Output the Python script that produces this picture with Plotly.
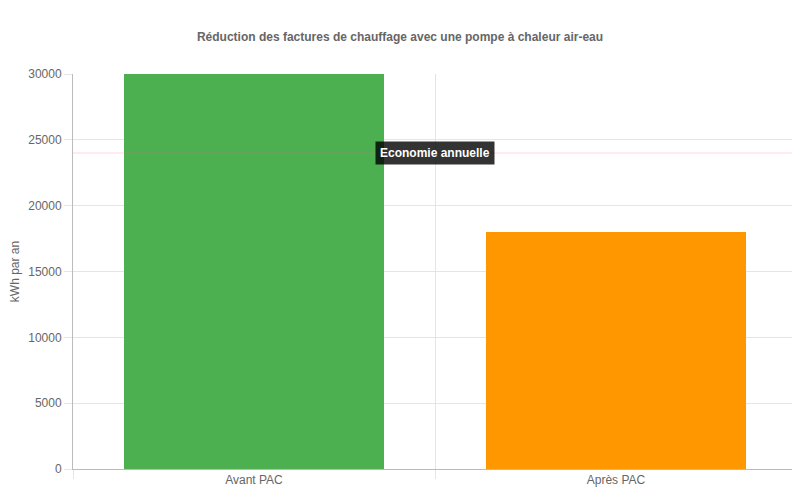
import plotly.graph_objects as go

# --- Données ---
categories = ["Avant PAC", "Après PAC"]
kwh_par_an = [30000, 18000]
bar_colors = ["#4CAF50", "#FF9800"]
ligne_economie = 24000
ligne_label = "Economie annuelle"
y_ticks = [0, 5000, 10000, 15000, 20000, 25000, 30000]
y_ticktext = [str(v) for v in y_ticks]

fig = go.Figure()
fig.add_trace(go.Bar(
    x=categories,
    y=kwh_par_an,
    marker=dict(color=bar_colors, line=dict(width=0)),
    width=0.72,
    hoverinfo="x+y",
))

# ligne horizontale + étiquette
fig.add_shape(
    type="line", xref="paper", x0=0, x1=1, yref="y",
    y0=ligne_economie, y1=ligne_economie,
    line=dict(color="rgba(255,99,132,0.25)", width=1),
)
fig.add_annotation(
    xref="paper", x=0.5, yref="y", y=ligne_economie,
    text="<b>" + ligne_label + "</b>", showarrow=False,
    font=dict(color="white", size=12, family="Liberation Sans, Arial, sans-serif"),
    bgcolor="rgba(0,0,0,0.8)", borderpad=4,
)

# la page ajoute ~8px de marge au body -> on compense
fig.update_layout(
    width=800, height=500,
    margin=dict(l=65, r=11, t=66, b=39, autoexpand=False),
    paper_bgcolor="white", plot_bgcolor="white",
    font=dict(family="Liberation Sans, Arial, sans-serif", size=12, color="#666"),
    title=dict(
        text="<b>Réduction des factures de chauffage avec une pompe à chaleur air-eau</b>",
        x=(400 - 8) / 800, xanchor="center", y=1 - 29 / 500, yanchor="middle",
        yref="container", font=dict(size=12, color="#666"),
    ),
    showlegend=False,
    bargap=0,
)
fig.update_xaxes(
    type="category", tickson="boundaries", ticks="outside", ticklen=9,
    tickcolor="#e5e5e5", showgrid=True, gridcolor="#e5e5e5",
    showline=True, linecolor="#bbb", linewidth=1, range=[-0.5, 1.5],
    automargin=False,
)
fig.update_yaxes(
    range=[0, 30000], tickvals=y_ticks, ticktext=y_ticktext,
    ticks="outside", ticklen=8,
    tickcolor="#e5e5e5", showgrid=True, gridcolor="#e5e5e5",
    showline=True, linecolor="#bbb", linewidth=1, zeroline=False,
    title=dict(text="kWh par an", standoff=14, font=dict(size=12, color="#666")),
    automargin=False,
)

fig.write_html("out.html")
